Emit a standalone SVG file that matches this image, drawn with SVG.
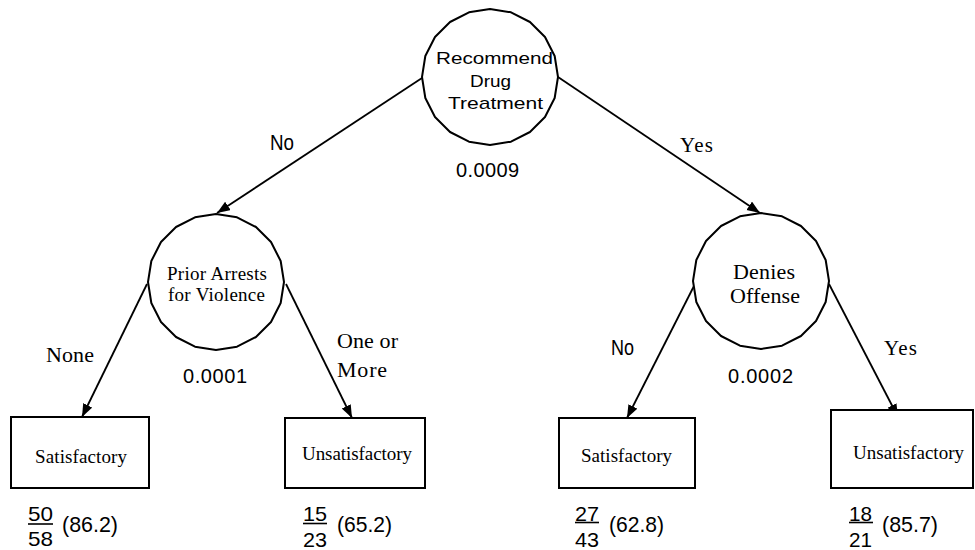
<svg xmlns="http://www.w3.org/2000/svg" xmlns:xlink="http://www.w3.org/1999/xlink" width="975" height="550" viewBox="0 0 975 550">
  <style>
    .node { fill: #fff; stroke: #000; stroke-width: 2; stroke-linejoin: round; }
    .leaf { fill: #fff; stroke: #000; stroke-width: 2; }
    .edge { fill: none; stroke: #000; stroke-width: 1.8; marker-end: url(#arrow); }
    .bar { stroke: #000; stroke-width: 1.6; }
    .sans { font-family: "Liberation Sans", Arial, sans-serif; fill: #000; }
    .serif { font-family: "Liberation Serif", "Times New Roman", serif; fill: #000; }
  </style>
  <defs>
    <marker id="arrow" markerUnits="userSpaceOnUse" markerWidth="14" markerHeight="11" refX="13" refY="5" orient="auto">
      <path d="M0,0 L13,5 L0,10 Z" fill="#000"/>
    </marker>
    <!-- 20-sided decision node outline, centred on the origin -->
    <polygon id="decision" points="68,0 64.67,21.01 55.01,39.97 39.97,55.01 21.01,64.67 0,68 -21.01,64.67 -39.97,55.01 -55.01,39.97 -64.67,21.01 -68,0 -64.67,-21.01 -55.01,-39.97 -39.97,-55.01 -21.01,-64.67 0,-68 21.01,-64.67 39.97,-55.01 55.01,-39.97 64.67,-21.01"/>
  </defs>

  <rect width="975" height="550" fill="#fff"/>

  <g id="connectors">
    <line class="edge" x1="422" y1="78" x2="217" y2="213"/>
    <line class="edge" x1="558" y1="77" x2="760" y2="213"/>
    <line class="edge" x1="147" y1="284" x2="82" y2="417"/>
    <line class="edge" x1="286" y1="284" x2="352" y2="418"/>
    <line class="edge" x1="695" y1="284" x2="627" y2="418"/>
    <line class="edge" x1="829" y1="284" x2="898" y2="417"/>
  </g>

  <g id="edge-labels">
    <text class="sans" x="270" y="150" font-size="22" textLength="24" lengthAdjust="spacingAndGlyphs">No</text>
    <text class="serif" x="680" y="152" font-size="21" textLength="33">Yes</text>
    <text class="serif" x="46" y="362" font-size="22" textLength="48">None</text>
    <text class="serif" x="337" y="348" font-size="22" textLength="61">One or</text>
    <text class="serif" x="337" y="377" font-size="22" textLength="50">More</text>
    <text class="sans" x="611" y="355" font-size="22" textLength="23" lengthAdjust="spacingAndGlyphs">No</text>
    <text class="serif" x="884" y="355" font-size="21" textLength="33">Yes</text>
  </g>

  <g id="node-drug-treatment">
    <use xlink:href="#decision" class="node" transform="translate(490 77)"/>
    <text class="sans" x="436" y="64" font-size="17" textLength="117" lengthAdjust="spacingAndGlyphs">Recommend</text>
    <text class="sans" x="470" y="86.5" font-size="17" textLength="41" lengthAdjust="spacingAndGlyphs">Drug</text>
    <text class="sans" x="448" y="109" font-size="17" textLength="95" lengthAdjust="spacingAndGlyphs">Treatment</text>
    <text class="sans" x="456" y="177" font-size="20" textLength="63">0.0009</text>
  </g>

  <g id="node-prior-arrests">
    <use xlink:href="#decision" class="node" transform="translate(216 282)"/>
    <text class="serif" x="167" y="280" font-size="19" textLength="100">Prior Arrests</text>
    <text class="serif" x="168" y="301" font-size="19" textLength="97">for Violence</text>
    <text class="sans" x="183" y="383" font-size="20" textLength="64">0.0001</text>
  </g>

  <g id="node-denies-offense">
    <use xlink:href="#decision" class="node" transform="translate(761 281)"/>
    <text class="serif" x="733" y="279" font-size="22" textLength="62">Denies</text>
    <text class="serif" x="730" y="303" font-size="22" textLength="70">Offense</text>
    <text class="sans" x="728" y="383" font-size="20" textLength="65">0.0002</text>
  </g>

  <g id="leaf-none-satisfactory">
    <rect class="leaf" x="11" y="417" width="138" height="71"/>
    <text class="serif" x="35" y="462.5" font-size="19" textLength="92">Satisfactory</text>
    <text class="sans" x="28" y="520.5" font-size="21" textLength="25" lengthAdjust="spacingAndGlyphs">50</text>
    <line class="bar" x1="28" y1="524" x2="53" y2="524"/>
    <text class="sans" x="28" y="546" font-size="21" textLength="25" lengthAdjust="spacingAndGlyphs">58</text>
    <text class="sans" x="62" y="532" font-size="22" textLength="56" lengthAdjust="spacingAndGlyphs">(86.2)</text>
  </g>

  <g id="leaf-more-unsatisfactory">
    <rect class="leaf" x="285" y="418" width="140" height="70"/>
    <text class="serif" x="302" y="460" font-size="19" textLength="110">Unsatisfactory</text>
    <text class="sans" x="303" y="520.5" font-size="21" textLength="24" lengthAdjust="spacingAndGlyphs">15</text>
    <line class="bar" x1="303" y1="523.5" x2="327" y2="523.5"/>
    <text class="sans" x="303" y="546.5" font-size="21" textLength="24" lengthAdjust="spacingAndGlyphs">23</text>
    <text class="sans" x="337" y="532" font-size="22" textLength="55" lengthAdjust="spacingAndGlyphs">(65.2)</text>
  </g>

  <g id="leaf-no-satisfactory">
    <rect class="leaf" x="559" y="418" width="136" height="70"/>
    <text class="serif" x="581" y="461.5" font-size="19" textLength="91">Satisfactory</text>
    <text class="sans" x="575" y="520.5" font-size="21" textLength="24" lengthAdjust="spacingAndGlyphs">27</text>
    <line class="bar" x1="575" y1="522.5" x2="599" y2="522.5"/>
    <text class="sans" x="575" y="546.5" font-size="21" textLength="24" lengthAdjust="spacingAndGlyphs">43</text>
    <text class="sans" x="609" y="532" font-size="22" textLength="55" lengthAdjust="spacingAndGlyphs">(62.8)</text>
  </g>

  <g id="leaf-yes-unsatisfactory">
    <rect class="leaf" x="831" y="410" width="142" height="78"/>
    <text class="serif" x="853" y="459" font-size="19" textLength="111">Unsatisfactory</text>
    <text class="sans" x="849" y="520.5" font-size="21" textLength="23" lengthAdjust="spacingAndGlyphs">18</text>
    <line class="bar" x1="849" y1="522.5" x2="873" y2="522.5"/>
    <text class="sans" x="849" y="546.5" font-size="21" textLength="23" lengthAdjust="spacingAndGlyphs">21</text>
    <text class="sans" x="882" y="532" font-size="22" textLength="56" lengthAdjust="spacingAndGlyphs">(85.7)</text>
  </g>
</svg>
